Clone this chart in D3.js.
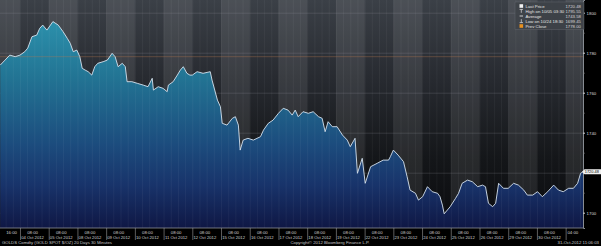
<!DOCTYPE html>
<html>
<head>
<meta charset="utf-8">
<script src="https://cdn.jsdelivr.net/npm/d3@7"></script>
<style>
  html, body { margin: 0; padding: 0; background: #000; overflow: hidden; }
  svg { display: block; font-family: "Liberation Sans", Arial, sans-serif; }
</style>
</head>
<body>
<div id="chart"></div>
<script>
// Trading days on the chart, index 0 = 03 Oct 2012 (hours below = day index * 24 + clock hour)
const tradingDays = ["03 Oct 2012", "04 Oct 2012", "05 Oct 2012", "08 Oct 2012", "09 Oct 2012",
  "10 Oct 2012", "11 Oct 2012", "12 Oct 2012", "15 Oct 2012", "16 Oct 2012", "17 Oct 2012",
  "18 Oct 2012", "19 Oct 2012", "22 Oct 2012", "23 Oct 2012", "24 Oct 2012", "25 Oct 2012",
  "26 Oct 2012", "29 Oct 2012", "30 Oct 2012", "31 Oct 2012"];

// 30 minute bars (sampled), hour offset and price
const barHours = [7.5, 11.5, 15.5, 20, 24, 28, 30.5, 34, 38, 40.5, 43, 46.5, 51.5, 56, 60, 63.5,
  66, 68.5, 71.5, 74, 76, 78.5, 81, 84, 86.5, 89, 93.5, 97, 101, 103.5, 106, 109.5, 112, 113.5,
  117.5, 122, 127, 131, 134.5, 135.5, 139.5, 143.5, 147, 148, 152, 155.5, 158, 160.5, 163.5, 166,
  168, 172, 177, 183, 184.5, 189, 191.5, 193, 197, 201.5, 204, 206.5, 208, 210.5, 214.5, 219, 225,
  227.5, 231.5, 235.5, 240, 244, 248, 251.5, 254, 256.5, 260.5, 265, 269, 273.5, 276.5, 279, 281.5,
  285, 289, 293.5, 297.5, 300, 304, 306, 310, 312.5, 317, 322.5, 327.5, 332, 333.5, 336, 340, 344.5,
  347.5, 350, 354.5, 357, 360.5, 364.5, 368.5, 373, 375, 377, 378.5, 383.5, 388, 390.5, 393.5, 398,
  402, 406.5, 410.5, 413, 415.5, 419, 421.5, 424, 428, 432, 436.5, 440.5, 445, 448, 452.5, 456.5,
  460.5, 465, 470, 474, 478, 482.5, 486.5, 490, 492.5, 494.5];
const barPrices = [1773.8, 1776.3, 1778.8, 1778.0, 1778.8, 1780.5, 1782.3, 1788.0, 1788.8, 1792.2,
  1793.8, 1791.3, 1795.55, 1793.8, 1790.5, 1787.2, 1784.7, 1780.5, 1781.3, 1778.0, 1772.2, 1771.3,
  1770.5, 1768.8, 1773.0, 1774.7, 1775.5, 1776.3, 1779.7, 1778.0, 1773.0, 1774.7, 1773.0, 1765.5,
  1765.5, 1764.7, 1763.8, 1763.0, 1767.2, 1761.3, 1763.0, 1762.2, 1760.5, 1763.8, 1765.5, 1768.8,
  1771.3, 1773.0, 1769.7, 1768.8, 1768.8, 1770.5, 1769.7, 1770.5, 1766.3, 1756.3, 1753.0, 1744.7,
  1743.8, 1747.2, 1748.0, 1743.8, 1731.3, 1736.3, 1737.2, 1736.3, 1738.0, 1741.3, 1744.7, 1746.3,
  1749.7, 1752.2, 1751.3, 1748.8, 1751.3, 1748.0, 1750.5, 1749.7, 1750.5, 1748.0, 1747.2, 1740.5,
  1745.5, 1743.0, 1743.0, 1738.8, 1736.3, 1733.0, 1737.2, 1719.7, 1727.2, 1714.7, 1723.0, 1724.7,
  1726.3, 1726.3, 1728.0, 1731.3, 1728.8, 1725.5, 1718.0, 1711.3, 1709.7, 1706.3, 1708.0, 1713.0,
  1710.5, 1709.7, 1708.0, 1703.8, 1699.45, 1703.0, 1707.2, 1709.7, 1714.7, 1716.3, 1715.5, 1713.0,
  1713.8, 1713.0, 1704.7, 1703.0, 1704.7, 1714.7, 1712.2, 1712.2, 1714.7, 1713.8, 1711.3, 1708.8,
  1708.8, 1710.5, 1708.0, 1710.5, 1713.8, 1711.3, 1710.5, 1712.2, 1712.2, 1714.7, 1719.7, 1720.48];

// Right axis
const priceTicks = [1700, 1720, 1740, 1760, 1780, 1800];
const priceMinorTicks = [1710, 1730, 1750, 1770, 1790];

// Legend
const legendLabels = ["Last Price", "High on 10/05 03:30", "Average", "Low on 10/24 18:30", "Prev Close"];
const legendValues = ["1720.48", "1795.55", "1743.58", "1699.45", "1778.00"];
const prevClose = 1778.00;
const lastPrice = 1720.48;

// Footer texts
const footerLeft = "GOLDS Comdty (GOLD SPOT $/OZ) 20 Days 30 Minutes";
const footerCenter = "Copyright\u00A9 2012 Bloomberg Finance L.P.";
const footerRight = "31-Oct-2012 11:06:03";

const width = 601;
const height = 246;
const innerWidth = 583;
const innerHeight = 228;

const data = barHours.map((h, i) => ({ hour: h, price: barPrices[i] }));

/*******************************/
/*    Append the containers    */
/*******************************/
const svg = d3.select("#chart")
  .append("svg")
    .attr("width", width)
    .attr("height", height)
    .attr("viewBox", `0 0 ${width} ${height}`);

svg.append("rect")
  .attr("width", width)
  .attr("height", height)
  .attr("fill", "#000");

const defs = svg.append("defs");

const bgGrad = defs.append("linearGradient")
  .attr("id", "bg-grad")
  .attr("gradientUnits", "userSpaceOnUse")
  .attr("x1", 0).attr("y1", 0).attr("x2", 0).attr("y2", innerHeight);
[[0, "#3b4047"], [0.35, "#272a30"], [0.7, "#141619"], [1, "#0a0b0e"]].forEach(s => {
  bgGrad.append("stop").attr("offset", s[0]).attr("stop-color", s[1]);
});

const areaGrad = defs.append("linearGradient")
  .attr("id", "area-grad")
  .attr("gradientUnits", "userSpaceOnUse")
  .attr("x1", 0).attr("y1", 15).attr("x2", 0).attr("y2", innerHeight);
[[0, "#2c93ae"], [0.3, "#227393"], [0.6, "#1c4d7e"], [0.8, "#18336a"], [1, "#0f1744"]].forEach(s => {
  areaGrad.append("stop").attr("offset", s[0]).attr("stop-color", s[1]);
});

const plot = svg.append("g")
  .attr("class", "plot");

/****************************/
/*    Declare the scales    */
/****************************/
const xScale = d3.scaleLinear()
  .domain([7.3, 494.5])
  .range([0, innerWidth]);

const yScale = d3.scaleLinear()
  .domain([1692.35, 1806.35])
  .range([innerHeight, 0]);

/***************************/
/*      Background         */
/***************************/
plot.append("rect")
  .attr("width", innerWidth)
  .attr("height", innerHeight)
  .attr("fill", "url(#bg-grad)");

// alternating day bands (clamped to the plot)
const bandX0 = d => Math.max(0, xScale(tradingDays.indexOf(d) * 24));
const bandX1 = d => Math.min(innerWidth, xScale((tradingDays.indexOf(d) + 1) * 24));
plot.selectAll(".day-band")
  .data(tradingDays.filter((d, i) => i % 2 === 0))
  .join("rect")
    .attr("class", "day-band")
    .attr("x", bandX0)
    .attr("width", d => bandX1(d) - bandX0(d))
    .attr("y", 0)
    .attr("height", innerHeight)
    .attr("fill", "#ffffff")
    .attr("fill-opacity", 0.085);

// horizontal grid
plot.append("g")
  .attr("class", "grid-y")
  .call(d3.axisRight(yScale).tickValues(priceTicks).tickSize(innerWidth).tickFormat(""))
  .call(g => g.select(".domain").remove())
  .call(g => g.selectAll("line").attr("stroke", "#9aa0a8").attr("stroke-opacity", 0.35).attr("stroke-width", 0.6));

/***************************/
/*      Area and line      */
/***************************/
const area = d3.area()
  .x(d => xScale(d.hour))
  .y0(innerHeight)
  .y1(d => yScale(d.price));

const line = d3.line()
  .x(d => xScale(d.hour))
  .y(d => yScale(d.price));

plot.append("path")
  .datum(data)
  .attr("d", area)
  .attr("fill", "url(#area-grad)");

// vertical grid every 6 hours, drawn over the area as in the terminal
const gridHours = d3.range(12, 494, 6);
plot.append("g")
  .attr("class", "grid-x")
  .call(d3.axisBottom(xScale).tickValues(gridHours).tickSize(innerHeight).tickFormat(""))
  .call(g => g.select(".domain").remove())
  .call(g => g.selectAll("line").attr("stroke", "#ffffff").attr("stroke-opacity", 0.07).attr("stroke-width", 0.7));

// prev close
plot.append("line")
  .attr("x1", 0)
  .attr("x2", innerWidth)
  .attr("y1", yScale(prevClose))
  .attr("y2", yScale(prevClose))
  .attr("stroke", "#b8784e")
  .attr("stroke-opacity", 0.45)
  .attr("stroke-width", 0.8);

plot.append("path")
  .datum(data)
  .attr("d", line)
  .attr("fill", "none")
  .attr("stroke", "#d6e2ee")
  .attr("stroke-width", 0.9);

/***************************/
/*     Append the axes     */
/***************************/
// Right axis (the 1720 label sits under the last price tag)
const rightAxis = svg.append("g")
  .attr("transform", `translate(${innerWidth}, 0)`)
  .call(d3.axisRight(yScale).tickValues(priceTicks).tickSize(2).tickPadding(1.5)
    .tickFormat(d => Math.abs(d - lastPrice) < 5 ? "" : d3.format("d")(d)));
rightAxis.select(".domain").attr("stroke", "#aab0b8").attr("stroke-width", 0.8);
rightAxis.selectAll("line").attr("stroke", "#d0d0d0");
rightAxis.selectAll("text")
  .attr("fill", "#d8d8d8")
  .attr("font-size", 4.4);

svg.append("g")
  .attr("transform", `translate(${innerWidth}, 0)`)
  .call(d3.axisRight(yScale).tickValues(priceMinorTicks).tickSize(1.5).tickFormat(""))
  .call(g => g.select(".domain").remove())
  .call(g => g.selectAll("line").attr("stroke", "#888"));

// last price tag
const lastY = yScale(lastPrice);
svg.append("path")
  .attr("d", `M${innerWidth - 1},${lastY} L${innerWidth + 1.5},${lastY - 2.6} L${width},${lastY - 2.6} L${width},${lastY + 2.6} L${innerWidth + 1.5},${lastY + 2.6} Z`)
  .attr("fill", "#f0f0f0");
svg.append("text")
  .attr("x", innerWidth + 1.8)
  .attr("y", lastY + 1.4)
  .attr("font-size", 3.9)
  .attr("fill", "#000")
  .text(d3.format(".2f")(lastPrice));

// Bottom axis
const xAxisG = svg.append("g")
  .attr("transform", `translate(0, ${innerHeight})`);

xAxisG.append("line")
  .attr("x1", 0).attr("x2", innerWidth)
  .attr("stroke", "#8a9098")
  .attr("stroke-width", 0.8);

// day separators
xAxisG.append("g")
  .call(d3.axisBottom(xScale).tickValues(d3.range(1, tradingDays.length).map(i => i * 24)).tickSize(12).tickFormat(""))
  .call(g => g.select(".domain").remove())
  .call(g => g.selectAll("line").attr("stroke", "#9a9a9a").attr("stroke-width", 0.6));

// tick labels: 16:00 first day, 08:00 each day (label box sits just right of the day line), 04:00 last day
const labelTicks = [{ hour: 17, time: "16:00", date: "" }]
  .concat(tradingDays.slice(1, -1).map((d, i) => ({ hour: (i + 1) * 24 + 10.5, time: "08:00", date: d })))
  .concat([{ hour: (tradingDays.length - 1) * 24 + 6, time: "04:00", date: "" }]);

xAxisG.selectAll(".x-time")
  .data(labelTicks)
  .join("text")
    .attr("class", "x-time")
    .attr("x", d => xScale(d.hour))
    .attr("y", 6.3)
    .attr("text-anchor", "middle")
    .attr("font-size", 4.3)
    .attr("fill", "#d0d0d0")
    .text(d => d.time);

xAxisG.selectAll(".x-date")
  .data(labelTicks.filter(d => d.date))
  .join("text")
    .attr("class", "x-date")
    .attr("x", d => xScale(d.hour))
    .attr("y", 11.3)
    .attr("text-anchor", "middle")
    .attr("font-size", 4.2)
    .attr("fill", "#d0d0d0")
    .text(d => d.date);

/***************************/
/*         Legend          */
/***************************/
const legend = svg.append("g")
  .attr("transform", "translate(515, 2)");

legend.append("rect")
  .attr("width", 69)
  .attr("height", 27.5)
  .attr("fill", "#3e4248")
  .attr("fill-opacity", 0.9)
  .attr("stroke", "#6a6e74")
  .attr("stroke-width", 0.4);

const rows = legend.selectAll(".legend-row")
  .data(legendLabels)
  .join("g")
    .attr("class", "legend-row")
    .attr("transform", (d, i) => `translate(0, ${4 + i * 5})`);

rows.append("text")
  .attr("x", 10.5)
  .attr("y", 1.6)
  .attr("font-size", 4.3)
  .attr("fill", "#e6e6e6")
  .text(d => d);

rows.append("text")
  .attr("x", 66)
  .attr("y", 1.6)
  .attr("text-anchor", "end")
  .attr("font-size", 4.3)
  .attr("fill", "#d6d6d6")
  .text((d, i) => legendValues[i]);

// legend icons
rows.filter((d, i) => i === 0).append("rect")
  .attr("x", 4.5).attr("y", -1.8).attr("width", 3.6).attr("height", 3.6)
  .attr("fill", "#f2f2f2");
rows.filter((d, i) => i === 1).append("path")
  .attr("d", "M4.6,-1.6 H8 M6.3,-1.6 V1.8")
  .attr("stroke", "#e0e0e0").attr("stroke-width", 0.7).attr("fill", "none");
rows.filter((d, i) => i === 2).append("path")
  .attr("d", "M4.6,0 H8")
  .attr("stroke", "#e0e0e0").attr("stroke-width", 0.9);
rows.filter((d, i) => i === 3).append("path")
  .attr("d", "M4.6,1.6 H8 M6.3,1.6 V-1.8")
  .attr("stroke", "#e0e0e0").attr("stroke-width", 0.7).attr("fill", "none");
rows.filter((d, i) => i === 4).append("rect")
  .attr("x", 4.5).attr("y", -1.8).attr("width", 3.6).attr("height", 3.6)
  .attr("fill", "#e8901e");

/***************************/
/*         Footer          */
/***************************/
const footer = svg.append("g")
  .attr("font-size", 4.3)
  .attr("fill", "#c8c8c8");

footer.append("text")
  .attr("x", 2)
  .attr("y", 244.3)
  .text(footerLeft);

footer.append("text")
  .attr("x", 330)
  .attr("y", 244.3)
  .attr("text-anchor", "middle")
  .text(footerCenter);

footer.append("text")
  .attr("x", 599)
  .attr("y", 244.3)
  .attr("text-anchor", "end")
  .text(footerRight);
</script>
</body>
</html>
